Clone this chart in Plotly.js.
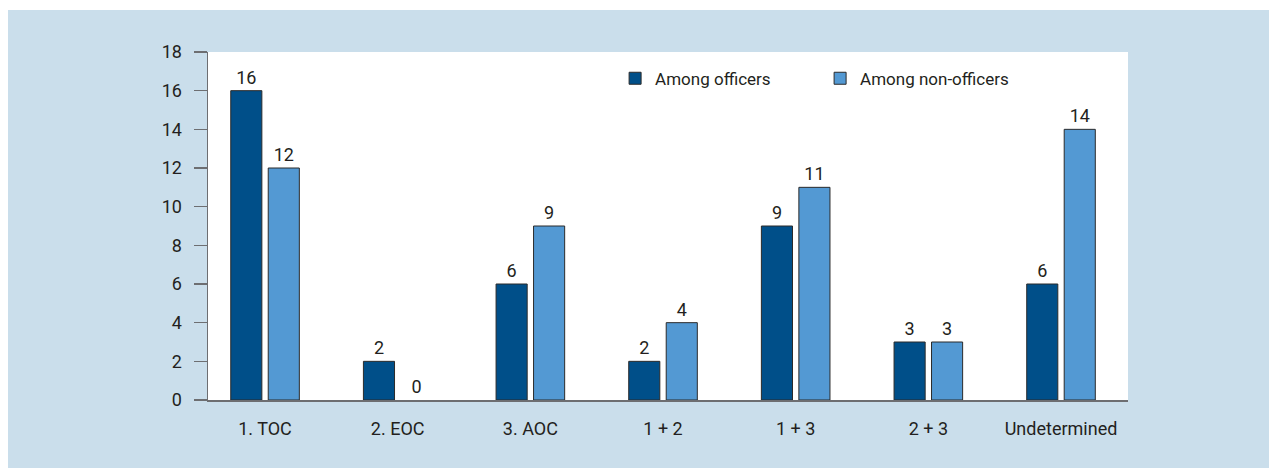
<!DOCTYPE html>
<html>
<head>
<meta charset="utf-8">
<script src="https://cdn.plot.ly/plotly-3.0.1.min.js"></script>
<style>
html,body{margin:0;padding:0;background:#ffffff;}
#chart{position:absolute;left:8px;top:10px;width:1261px;height:458px;}
</style>
</head>
<body>
<div id="chart"></div>
<script>
const categories = ["1. TOC", "2. EOC", "3. AOC", "1 + 2", "1 + 3", "2 + 3", "Undetermined"];
const officers = [16, 2, 6, 2, 9, 3, 6];
const nonOfficers = [12, 0, 9, 4, 11, 3, 14];
const seriesNames = ["Among officers", "Among non-officers"];
const yTicks = [0, 2, 4, 6, 8, 10, 12, 14, 16, 18];

const FONT = "Roboto, 'Liberation Sans', sans-serif";
const txtColor = "#231f20";

const mk = (y, name, color) => ({
  type: "bar",
  x: categories,
  y: y,
  name: name,
  text: y.map(String),
  textposition: "outside",
  cliponaxis: false,
  textfont: {family: FONT, size: 18, color: txtColor},
  marker: {color: color, line: {color: "#2b2b2b", width: y.map(v => v === 0 ? 0 : 1)}},
  hoverinfo: "none"
});

const data = [
  mk(officers, seriesNames[0], "#004f89"),
  mk(nonOfficers, seriesNames[1], "#5399d3")
];

const layout = {
  width: 1261,
  height: 458,
  margin: {l: 200, r: 141, t: 42, b: 68},
  paper_bgcolor: "#cadeeb",
  plot_bgcolor: "#ffffff",
  barmode: "group",
  bargap: 0.435,
  bargroupgap: 0.17,
  font: {family: FONT, size: 18, color: txtColor},
  showlegend: true,
  legend: {
    orientation: "h",
    x: 0.4425, xanchor: "left",
    y: 0.975, yanchor: "top",
    bgcolor: "rgba(0,0,0,0)",
    font: {family: FONT, size: 17, color: txtColor},
    entrywidth: 160,
    entrywidthmode: "pixels"
  },
  xaxis: {
    type: "category",
    range: [-0.43, 6.505],
    showline: true,
    linecolor: "#6d6e71",
    linewidth: 1.5,
    ticks: "",
    showgrid: false,
    zeroline: false,
    ticklabelstandoff: 12,
    tickfont: {family: FONT, size: 18, color: txtColor},
    fixedrange: true
  },
  yaxis: {
    range: [0, 18],
    tickvals: yTicks,
    ticktext: yTicks.map(String),
    showline: true,
    linecolor: "#6d6e71",
    linewidth: 1.5,
    ticks: "outside",
    ticklen: 13,
    tickwidth: 1.5,
    tickcolor: "#6d6e71",
    showgrid: false,
    zeroline: false,
    ticklabelstandoff: 8,
    tickfont: {family: FONT, size: 18, color: txtColor},
    fixedrange: true
  }
};

Plotly.newPlot("chart", data, layout, {displayModeBar: false, staticPlot: true});
</script>
</body>
</html>
